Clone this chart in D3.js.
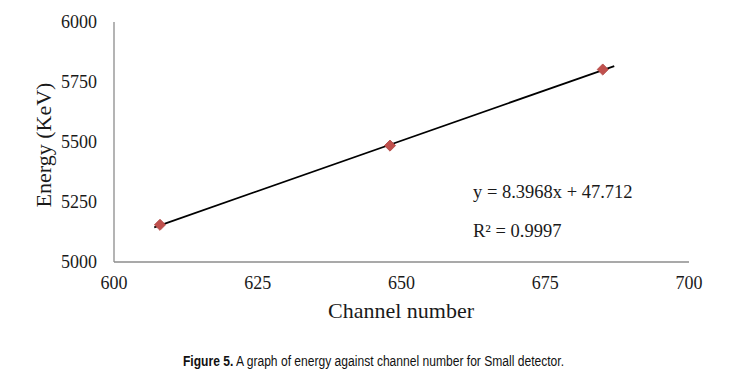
<!DOCTYPE html>
<html>
<head>
<meta charset="utf-8">
<script src="https://cdn.jsdelivr.net/npm/d3@7"></script>
<style>
	body { margin: 0; background: #fff; }
	.tick-label { font-family: "Liberation Serif", "Times New Roman", serif; font-size: 18px; fill: #1a1a1a; }
	.axis-title { font-family: "Liberation Serif", "Times New Roman", serif; font-size: 22px; fill: #1a1a1a; }
	.fit-label { font-family: "Liberation Serif", "Times New Roman", serif; font-size: 18.5px; fill: #1a1a1a; }
	.caption { font-family: "Liberation Sans", Arial, sans-serif; font-size: 15.5px; fill: #111; }
</style>
</head>
<body>
<script>
	// data
	var channels = [608, 648, 685];
	var energies = [5155, 5485, 5802];
	var xTicks = [600, 625, 650, 675, 700];
	var yTicks = [5000, 5250, 5500, 5750, 6000];
	var fitSlope = 8.3968,
		fitIntercept = 47.712,
		fitR2 = 0.9997;
	var fitRange = [607, 687];

	var width = 735,
		height = 377,
		plotLeft = 114,
		plotRight = 689,
		plotTop = 22,
		plotBottom = 262,
		axisColor = '#8c8c8c',
		markerColor = '#c0504d';

	var svg = d3.select('body').append('svg')
		.attr('width', width)
		.attr('height', height);

	var x = d3.scaleLinear().domain([600, 700]).range([plotLeft, plotRight]);
	var y = d3.scaleLinear().domain([5000, 6000]).range([plotBottom, plotTop]);

	// axis lines (no tick marks in the original)
	svg.append('line')
		.attr('x1', plotLeft).attr('x2', plotLeft)
		.attr('y1', plotTop).attr('y2', plotBottom)
		.attr('stroke', axisColor).attr('stroke-width', 1.3);
	svg.append('line')
		.attr('x1', plotLeft).attr('x2', plotRight)
		.attr('y1', plotBottom).attr('y2', plotBottom)
		.attr('stroke', axisColor).attr('stroke-width', 1.3);

	// tick labels
	svg.selectAll('.y-label').data(yTicks).enter().append('text')
		.attr('class', 'tick-label y-label')
		.attr('x', plotLeft - 17)
		.attr('y', function (d) { return y(d); })
		.attr('dy', '0.33em')
		.attr('text-anchor', 'end')
		.text(function (d) { return d; });

	svg.selectAll('.x-label').data(xTicks).enter().append('text')
		.attr('class', 'tick-label x-label')
		.attr('x', function (d) { return x(d); })
		.attr('y', plotBottom + 27)
		.attr('text-anchor', 'middle')
		.text(function (d) { return d; });

	// axis titles
	svg.append('text')
		.attr('class', 'axis-title')
		.attr('transform', 'translate(51,145) rotate(-90)')
		.attr('text-anchor', 'middle')
		.text('Energy (KeV)');

	svg.append('text')
		.attr('class', 'axis-title')
		.attr('x', 401)
		.attr('y', 318)
		.attr('text-anchor', 'middle')
		.text('Channel number');

	// linear trendline
	svg.append('line')
		.attr('x1', x(fitRange[0])).attr('y1', y(fitSlope * fitRange[0] + fitIntercept))
		.attr('x2', x(fitRange[1])).attr('y2', y(fitSlope * fitRange[1] + fitIntercept))
		.attr('stroke', '#000').attr('stroke-width', 1.8);

	// markers
	var diamond = d3.symbol().type(d3.symbolSquare).size(62);
	svg.selectAll('.point').data(channels).enter().append('path')
		.attr('class', 'point')
		.attr('d', diamond)
		.attr('transform', function (d, i) {
			return 'translate(' + x(d) + ',' + y(energies[i]) + ') rotate(45)';
		})
		.attr('fill', markerColor)
		.attr('stroke', '#b04845')
		.attr('stroke-width', 0.8);

	// equation labels
	svg.append('text')
		.attr('class', 'fit-label')
		.attr('x', 473)
		.attr('y', 198)
		.text('y = ' + fitSlope + 'x + ' + fitIntercept);
	svg.append('text')
		.attr('class', 'fit-label')
		.attr('x', 473)
		.attr('y', 237)
		.text('R² = ' + fitR2);

	// caption (original uses a condensed face, so squeeze it horizontally)
	var caption = svg.append('text')
		.attr('class', 'caption')
		.attr('transform', 'translate(183,366) scale(0.78,1)');
	caption.append('tspan').attr('font-weight', 'bold').text('Figure 5.');
	caption.append('tspan').text(' A graph of energy against channel number for Small detector.');
</script>
</body>
</html>
